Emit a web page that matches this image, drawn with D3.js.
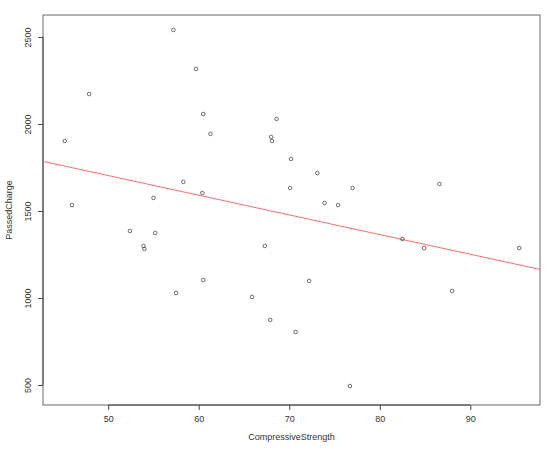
<!DOCTYPE html>
<html><head><meta charset="utf-8">
<script src="https://cdn.jsdelivr.net/npm/d3@7"></script>
<style>body{margin:0;background:#fff}text{font-family:"Liberation Sans",Arial,sans-serif;fill:#333}</style>
</head><body><div id="chart"></div>
<script>
const W = 550, H = 449
const strength = [45.2,46.0,47.9,52.4,53.9,54.0,55.0,55.2,57.2,57.5,58.3,59.7,60.4,60.5,60.5,61.3,65.9,67.3,68.0,68.1,67.9,68.6,70.2,70.1,70.7,72.2,73.1,73.9,75.4,77.0,76.7,82.5,84.9,86.6,88.0,95.4]
const charge = [1902,1534,2172,1385,1299,1282,1575,1374,2540,1029,1667,2316,1603,2057,1103,1943,1006,1299,1925,1902,874,2029,1799,1632,805,1098,1718,1546,1534,1632,494,1339,1287,1655,1040,1287]
const xTicks = [50,60,70,80,90]
const yTicks = [500,1000,1500,2000,2500]

const m = {l:43, r:10, t:15, b:44}
const svg = d3.select("#chart").append("svg").attr("width", W).attr("height", H)
const x = d3.scaleLinear().domain([42.8,97.7]).range([m.l, W-m.r])
const y = d3.scaleLinear().domain([385,2626]).range([H-m.b, m.t])

// box
svg.append("rect").attr("x", m.l).attr("y", m.t).attr("width", W-m.r-m.l).attr("height", H-m.b-m.t)
    .attr("fill","none").attr("stroke","#444").attr("stroke-width",0.8)

const gx = svg.append("g").attr("transform", `translate(0,${H-m.b})`)
    .call(d3.axisBottom(x).tickValues(xTicks).tickFormat(d3.format("d")).tickSize(5).tickPadding(6))
const gy = svg.append("g").attr("transform", `translate(${m.l},0)`)
    .call(d3.axisLeft(y).tickValues(yTicks).tickFormat(d3.format("d")).tickSize(5).tickPadding(4))
gy.selectAll("text").attr("transform","rotate(-90)").attr("text-anchor","middle").attr("x",0).attr("dy","0")
    .attr("y",-12)
;[gx, gy].forEach(g => {
    g.select(".domain").remove()
    g.selectAll("line").attr("stroke","#444")
    g.selectAll("text").attr("font-size",9).attr("fill","#333")
})
gx.append("path").attr("d",`M${x(50)},0H${x(90)}`).attr("stroke","#444")
gy.append("path").attr("d",`M0,${y(500)}V${y(2500)}`).attr("stroke","#444")

svg.append("text").attr("x",(m.l+W-m.r)/2).attr("y",H-9).attr("text-anchor","middle")
    .attr("font-size",9).text("CompressiveStrength")
svg.append("text").attr("transform",`translate(12,${(m.t+H-m.b)/2}) rotate(-90)`).attr("text-anchor","middle")
    .attr("font-size",9).text("PassedCharge")

// regression
const mx = d3.mean(strength), my = d3.mean(charge)
let sxy = 0, sxx = 0
strength.forEach((v,i) => { sxy += (v-mx)*(charge[i]-my); sxx += (v-mx)*(v-mx) })
const b = sxy/sxx, a = my - b*mx
const xd = x.domain()
svg.append("line").attr("x1",x(xd[0])).attr("x2",x(xd[1])).attr("y1",y(a+b*xd[0])).attr("y2",y(a+b*xd[1]))
    .attr("stroke","#ff6b6b").attr("stroke-width",1)

svg.append("g").selectAll("circle").data(strength).enter().append("circle")
    .attr("cx", d => x(d)).attr("cy", (d,i) => y(charge[i])).attr("r",1.8)
    .attr("fill","none").attr("stroke","#333").attr("stroke-width",0.7)
</script></body></html>
